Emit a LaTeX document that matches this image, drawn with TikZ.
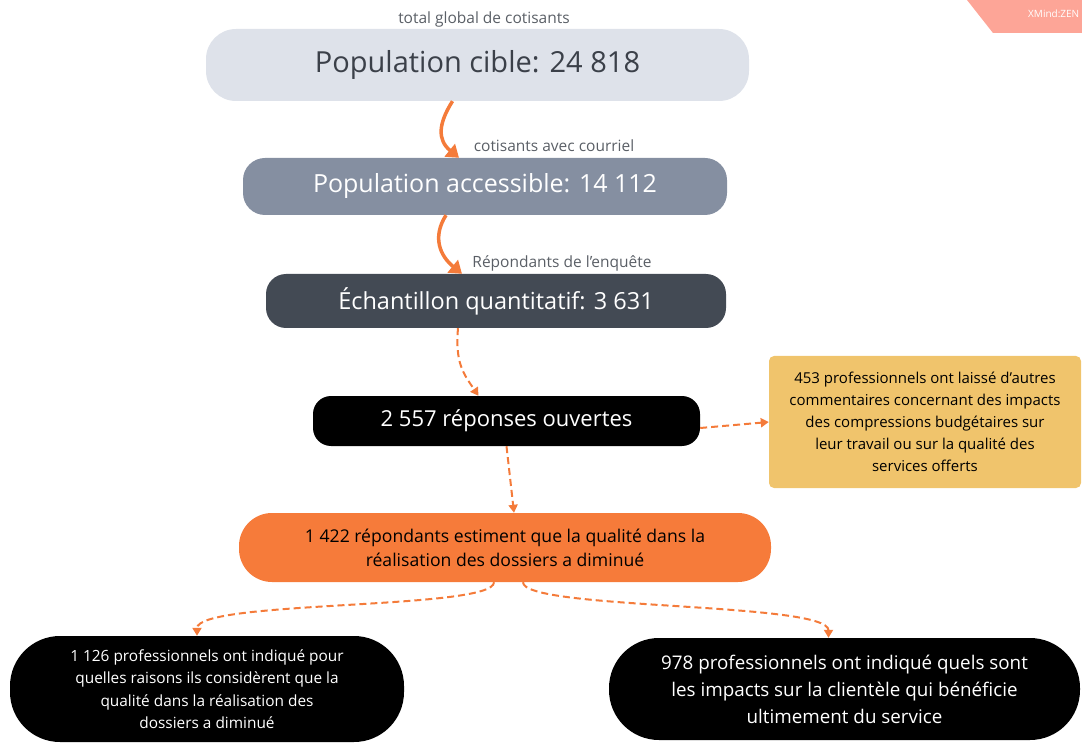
\documentclass[tikz,border=0pt]{standalone}
\usepackage{fontspec}
\setmainfont{Open Sans}
\usetikzlibrary{arrows.meta}

\definecolor{cibleFond}{HTML}{DEE2EA}
\definecolor{accesFond}{HTML}{858FA1}
\definecolor{echFond}{HTML}{434A54}
\definecolor{flecheOr}{HTML}{F47B3A}
\definecolor{qualFond}{HTML}{F67B3A}
\definecolor{jaune}{HTML}{F0C46C}
\definecolor{saumon}{HTML}{FDA597}
\definecolor{texteGris}{HTML}{3B4049}
\definecolor{etiqGris}{HTML}{5A5F66}

\newcommand{\taille}[2]{\fontsize{#1}{#2}\selectfont}

\begin{document}
\begin{tikzpicture}[x=1pt,y=-1pt,
  boite/.style={rounded corners=#1, inner sep=0pt, align=center},
  etiquette/.style={text=etiqGris, inner sep=0pt, font=\taille{15.5}{18}},
  fleche/.style={flecheOr, line width=3.5pt, -{Triangle[length=12pt,width=16pt]}},
  pointille/.style={flecheOr, line width=2pt, dash pattern=on 7pt off 4pt,
    -{Triangle[length=8pt,width=9pt]}}]
  \useasboundingbox (0,0) rectangle (1082,743);

  %% corner mark
  \fill[saumon] (967,0) -- (1082,0) -- (1082,33) -- (993,33) -- cycle;
  \node[text=white, anchor=west, inner sep=0pt, font=\taille{10}{12}] (xmind) at (1028,14) {XMind:ZEN};

  %% main chain
  \node[etiquette] (etiqCible) at (484,19) {total global de cotisants};
  \node[boite=30pt, fill=cibleFond, text=texteGris, minimum width=543pt, minimum height=72pt,
    font=\taille{29}{35}] (cible) at (477.5,65) {Population cible: 24 818};

  \node[etiquette] (etiqAcces) at (554,146) {cotisants avec courriel};
  \node[boite=22pt, fill=accesFond, text=white, minimum width=484pt, minimum height=57pt,
    font=\taille{25}{30}] (acces) at (485,186.5) {Population accessible: 14 112};

  \node[etiquette] (etiqEch) at (562,263) {Répondants de l'enquête};
  \node[boite=20pt, fill=echFond, text=white, minimum width=460pt, minimum height=54pt,
    font=\taille{23.5}{28}] (echant) at (496,301) {Échantillon quantitatif: 3 631};

  \node[boite=18pt, fill=black, text=white, minimum width=387pt, minimum height=50pt,
    font=\taille{22}{26}] (ouvertes) at (506.5,421) {2 557 réponses ouvertes};

  %% side note
  \node[boite=5pt, fill=jaune, text=black, minimum width=312pt, minimum height=132pt,
    font=\taille{15}{22}] (comment) at (925,422)
    {453 professionnels ont laissé d'autres\\commentaires concernant des impacts\\des compressions budgétaires sur\\leur travail ou sur la qualité des\\services offerts};

  %% results
  \node[boite=33pt, fill=qualFond, text=black, minimum width=532pt, minimum height=69pt,
    font=\taille{17.6}{24}] (qualite) at (505,547.5)
    {1 422 répondants estiment que la qualité dans la\\réalisation des dossiers a diminué};

  \node[boite=50pt, fill=black, text=white, minimum width=394pt, minimum height=106pt,
    font=\taille{15.4}{22.5}] (raisons) at (207,689)
    {1 126 professionnels ont indiqué pour\\quelles raisons ils considèrent que la\\qualité dans la réalisation des\\dossiers a diminué};

  \node[boite=50pt, fill=black, text=white, minimum width=471pt, minimum height=102pt,
    font=\taille{18.8}{27}] (impacts) at (844.5,689)
    {978 professionnels ont indiqué quels sont\\les impacts sur la clientèle qui bénéficie\\ultimement du service};

  %% arrows
  \draw[fleche] ([xshift=-25pt]cible.south) .. controls +(-14,22) and +(-22,-18) .. ([xshift=-26pt]acces.north);
  \draw[fleche] ([xshift=-39pt]acces.south) .. controls +(-14,22) and +(-22,-18) .. ([xshift=-34pt]echant.north);
  \draw[pointille] ([xshift=-38pt]echant.south) .. controls +(-3,35) and +(-15,-22) .. ([xshift=-28pt]ouvertes.north);
  \draw[pointille] ([yshift=-7pt]ouvertes.east) -- (comment.west);
  \draw[pointille] (ouvertes.south) -- ([xshift=9pt]qualite.north);
  \draw[pointille] ([xshift=-11pt]qualite.south) .. controls +(0,28) and +(0,-36) .. ([xshift=-10pt]raisons.north);
  \draw[pointille] ([xshift=18pt]qualite.south) .. controls +(0,28) and +(0,-36) .. ([xshift=-16pt]impacts.north);
\end{tikzpicture}
\end{document}
